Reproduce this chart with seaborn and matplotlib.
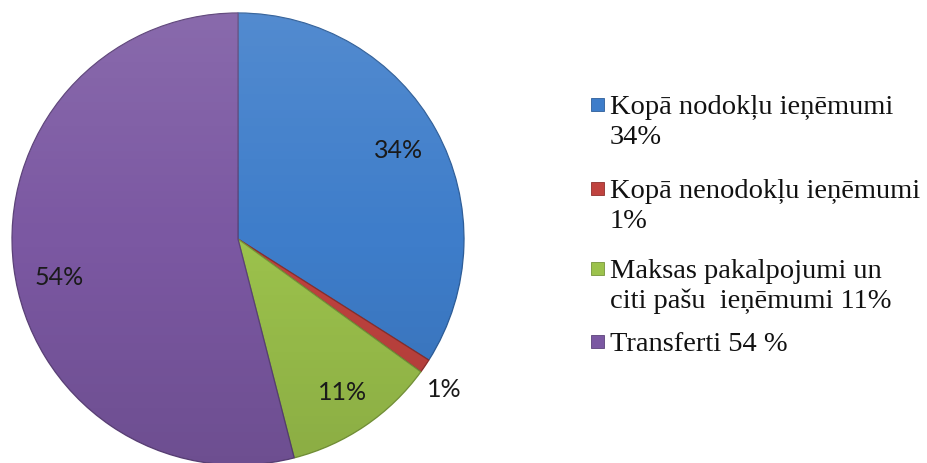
import numpy as np
import matplotlib
matplotlib.use("Agg")
import matplotlib.pyplot as plt
import seaborn as sns
from matplotlib.patches import Rectangle

sns.set_theme(style="white")

categories = ["Kopā nodokļu ieņēmumi\n34%",
              "Kopā nenodokļu ieņēmumi\n1%",
              "Maksas pakalpojumi un\nciti pašu  ieņēmumi 11%",
              "Transferti 54 %"]
values = [34, 1, 11, 54]
pct_labels = ["34%", "1%", "11%", "54%"]
colors = ["#3E7DCA", "#C0433F", "#9CC24C", "#7B58A2"]
edge_colors = ["#2E5E99", "#8E2F2C", "#76943A", "#5C4279"]

# label placement (layout): radial distance and angle nudge in degrees
label_radius = [0.81, 1.13, 0.82, 0.81]
label_nudge = [0.0, -2.0, 0.0, 5.0]

W, H = 928, 463
fig = plt.figure(figsize=(W / 100, H / 100), dpi=100)
fig.patch.set_facecolor("white")

cx, cy, R = 238, 239, 226
ax = fig.add_axes([(cx - R) / W, (H - cy - R) / H, 2 * R / W, 2 * R / H])
ax.set_aspect("equal")
ax.axis("off")

wedges, _ = ax.pie(values, colors=colors, startangle=90, counterclock=False,
                   radius=1.0, wedgeprops=dict(linewidth=0.9))
for w, ec in zip(wedges, edge_colors):
    w.set_edgecolor(ec)

# subtle lighting: lighter top, darker bottom
n = 400
yy, xx = np.mgrid[-1:1:n * 1j, -1:1:n * 1j]
overlay = np.zeros((n, n, 4))
overlay[..., :3] = np.where(yy[..., None] > 0, 1.0, 0.0)
overlay[..., 3] = np.abs(yy) * 0.11
im = ax.imshow(overlay, extent=(-1, 1, -1, 1), origin="lower", zorder=3)
circ = plt.Circle((0, 0), 1.0, transform=ax.transData)
im.set_clip_path(circ)

lab_font = dict(family=["Lato", "DejaVu Sans"], fontsize=18, color="#1a1a1a")
for w, lab, r, nd in zip(wedges, pct_labels, label_radius, label_nudge):
    ang = np.deg2rad((w.theta1 + w.theta2) / 2 + nd)
    ax.text(r * np.cos(ang), r * np.sin(ang), lab, ha="center", va="center",
            zorder=5, **lab_font)

ax.set_xlim(-1.0, 1.0)
ax.set_ylim(-1.0, 1.0)

# legend (manual)
leg_font = dict(family=["Liberation Serif", "DejaVu Serif"], fontsize=20.5, color="#111111")
baselines = [114, 198, 278, 351]
line_step = 30
text_x = 610
for lab, col, ec, b in zip(categories, colors, edge_colors, baselines):
    for i, line in enumerate(lab.split("\n")):
        fig.text(text_x / W, (H - (b + i * line_step)) / H, line, ha="left",
                 va="baseline", **leg_font)
    fig.patches.append(Rectangle((591 / W, (H - (b - 3)) / H), 13 / W, 13 / H,
                                 transform=fig.transFigure, facecolor=col,
                                 edgecolor=ec, linewidth=0.6))

fig.savefig("out.png", dpi=100, facecolor="white")
